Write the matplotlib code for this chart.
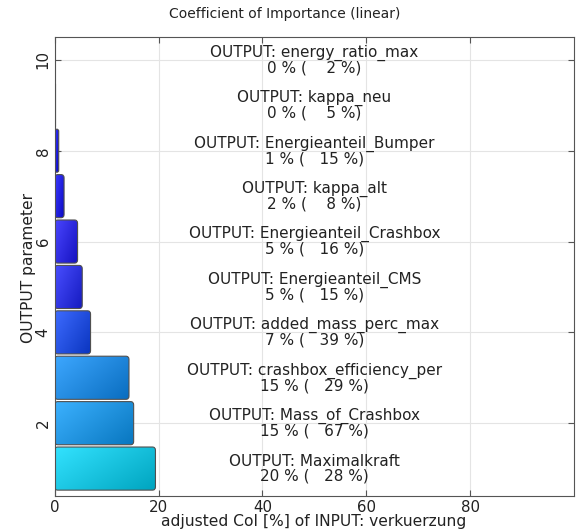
import numpy as np
import matplotlib
matplotlib.use("Agg")
import matplotlib.pyplot as plt
from matplotlib.patches import FancyBboxPatch
from matplotlib.colors import LinearSegmentedColormap

# data, bottom (1) to top (10)
names = ["Maximalkraft", "Mass_of_Crashbox", "crashbox_efficiency_per",
         "added_mass_perc_max", "Energieanteil_CMS", "Energieanteil_Crashbox",
         "kappa_alt", "Energieanteil_Bumper", "kappa_neu", "energy_ratio_max"]
coi = [19.4, 15.2, 14.3, 6.9, 5.3, 4.4, 1.8, 0.77, 0.15, 0.02]
coi_pct = [20, 15, 15, 7, 5, 5, 2, 1, 0, 0]
total_pct = [28, 67, 29, 39, 15, 16, 8, 15, 5, 2]
positions = list(range(1, 11))

plt.rcParams['font.family'] = ['DejaVu Sans']
plt.rcParams['font.size'] = 10

fig = plt.figure(figsize=(5.76, 5.32), dpi=100)
ax = fig.add_axes([0.095, 0.068, 0.9015, 0.862])

cmap = LinearSegmentedColormap.from_list(
    "coi", [(0.0, (0.0, 0.0, 1.0)), (0.25, (0.12, 0.1, 1.0)),
            (0.36, (0.05, 0.28, 1.0)), (0.75, (0.05, 0.58, 1.0)),
            (1.0, (0.0, 0.86, 1.0))])

h = 0.95
rx = 0.6
ry = 0.07
vmax = max(coi)
for y, v in zip(positions, coi):
    base = np.array(cmap(v / vmax)[:3])
    light = base * 0.8 + 0.2
    dark = base * 0.75
    patch = FancyBboxPatch((0, y - h / 2), v, h,
                           boxstyle="round,pad=0,rounding_size=%f" % min(rx, v / 2 + 1e-6),
                           mutation_aspect=ry / rx,
                           facecolor="none", edgecolor="#505050", linewidth=0.8, zorder=3)
    ax.add_patch(patch)
    uu, vv = np.meshgrid(np.linspace(0, 1, 60), np.linspace(0, 1, 30))
    t = (uu * 0.6 + vv * 0.4)[..., None]
    img = light * (1 - t) + dark * t
    im = ax.imshow(img, extent=[0, v, y - h / 2, y + h / 2], origin="upper",
                   aspect="auto", interpolation="bilinear", zorder=2)
    im.set_clip_path(patch)

for y, n, p, tp in zip(positions, names, coi_pct, total_pct):
    ax.text(50, y, "OUTPUT: %s\n%d %% (%5d %%)" % (n, p, tp), ha="center",
            va="center", fontsize=11, color="#222222", linespacing=0.95, zorder=4)

ax.set_xlim(0, 100)
ax.set_ylim(0.4, 10.5)
ax.set_xticks([0, 20, 40, 60, 80])
ax.set_yticks([2, 4, 6, 8, 10])
ax.set_aspect("auto")
ax.grid(True, color="#e4e4e4", linewidth=0.8, zorder=0)
ax.set_axisbelow(True)
ax.tick_params(direction="in", top=True, right=True, length=4, color="#555555",
               labelsize=10.8, labelcolor="#222222", pad=3)
for lab in ax.get_yticklabels():
    lab.set_rotation(90)
    lab.set_va("center")
for s in ax.spines.values():
    s.set_color("#555555")

fig.text(0.495, 0.973, "Coefficient of Importance (linear)", ha="center",
         va="center", fontsize=10, color="#222222")
fig.text(0.545, 0.019, "adjusted CoI [%] of INPUT: verkuerzung", ha="center",
         va="center", fontsize=11.2, color="#222222")
fig.text(0.049, 0.497, "OUTPUT parameter", ha="center", va="center",
         rotation=90, fontsize=11.2, color="#222222")

fig.savefig("out.png", dpi=100)
